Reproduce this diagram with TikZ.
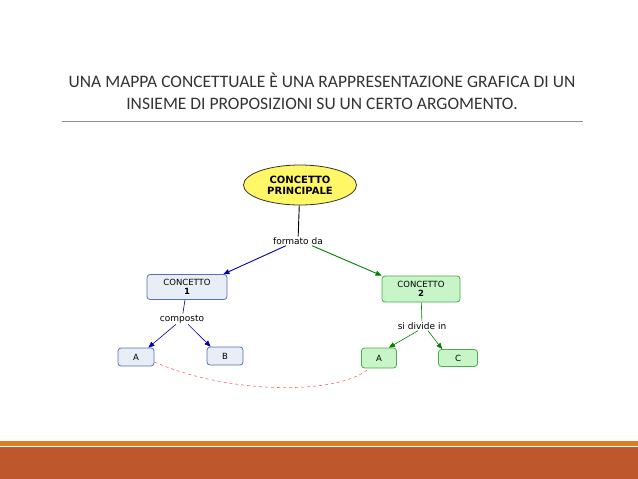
\documentclass[tikz,border=0pt]{standalone}
\usepackage{fontspec}
\setmainfont{Carlito}
\newfontfamily\cmapfont{DejaVu Sans}
\usetikzlibrary{shapes.geometric,arrows.meta,calc}
\definecolor{rust}{HTML}{BE582C}
\definecolor{orng}{HTML}{DE7E22}
\definecolor{bluefill}{HTML}{E8EEF6}
\definecolor{bluedraw}{HTML}{5A6EB8}
\definecolor{greenfill}{HTML}{C8F5C8}
\definecolor{greendraw}{HTML}{4EAA4E}
\tikzset{
  cbox/.style={draw=bluedraw,fill=bluefill,rounded corners=3pt,line width=0.8pt,font=\cmapfont\fontsize{8.5}{9.5}\selectfont,align=center,inner sep=0pt},
  gbox/.style={cbox,draw=greendraw,fill=greenfill},
  lab/.style={font=\cmapfont\fontsize{9}{10}\selectfont,fill=white,inner sep=1pt},
  barr/.style={draw=blue!70!black,line width=0.9pt,-{Triangle[length=6pt,width=5pt]}},
  garr/.style={draw=green!50!black,line width=0.9pt,-{Triangle[length=6pt,width=5pt]}},
}
\begin{document}
\begin{tikzpicture}[x=1pt,y=-1pt]
\useasboundingbox (0,0) rectangle (638,479);
\fill[orng] (0,441) rectangle (638,446);
\fill[rust] (0,447) rectangle (638,479);
\node[font=\fontsize{17.5}{22}\selectfont,align=center,text=black!80] (title) at (322,91) {UNA MAPPA CONCETTUALE È UNA RAPPRESENTAZIONE GRAFICA DI UN\\INSIEME DI PROPOSIZIONI SU UN CERTO ARGOMENTO.};
\draw[black!45,line width=0.5pt] (62,121) -- (583,121);
\node[ellipse,draw=black!80,fill=yellow!60,line width=0.8pt,minimum width=113pt,minimum height=40pt,inner sep=0pt,font=\cmapfont\bfseries\fontsize{10}{11}\selectfont,align=center] (main) at (300,185) {CONCETTO\\PRINCIPALE};
\node[lab] (fd) at (298,241) {formato da};
\node[cbox,minimum width=80pt,minimum height=25pt] (c1) at (187,287) {CONCETTO\\\textbf{1}};
\node[gbox,minimum width=78pt,minimum height=26pt] (c2) at (421,289) {CONCETTO\\\textbf{2}};
\node[lab] (comp) at (182,319) {composto};
\node[lab] (sdi) at (422,326) {si divide in};
\node[cbox,minimum width=36pt,minimum height=18pt] (a1) at (136,357) {A};
\node[cbox,minimum width=36pt,minimum height=18pt] (b) at (225,356) {B};
\node[gbox,minimum width=35pt,minimum height=20pt] (a2) at (379,358) {A};
\node[gbox,minimum width=39pt,minimum height=17pt] (c) at (458,358) {C};
\draw[black,line width=0.9pt] (main) -- (fd);
\draw[barr] ($(fd.south)+(-12,0)$) -- ($(c1.north east)+(-4,0)$);
\draw[garr] ($(fd.south)+(14,0)$) -- ($(c2.north west)+(0,0)$);
\draw[blue!60!black,line width=0.6pt] (c1) -- (comp);
\draw[barr,line width=0.6pt] ($(comp.south)+(-6,0)$) -- ($(a1.north east)+(-6,0)$);
\draw[barr,line width=0.6pt] ($(comp.south)+(6,0)$) -- ($(b.north west)+(4,0)$);
\draw[green!50!black,line width=0.6pt] (c2) -- (sdi);
\draw[garr,line width=0.6pt] ($(sdi.south)+(-4,0)$) -- ($(a2.north east)+(-8,0)$);
\draw[garr,line width=0.6pt] ($(sdi.south)+(6,0)$) -- ($(c.north west)+(4,0)$);
\draw[red!60,dashed,line width=0.6pt] (a1.east) ++(0,5) .. controls (230,395) and (340,395) .. ($(a2.south)+(-10,0)$);
\end{tikzpicture}
\end{document}
